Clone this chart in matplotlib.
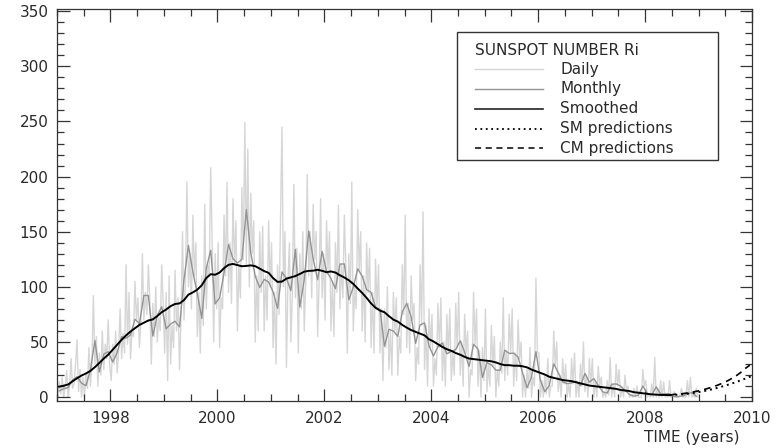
import numpy as np
import matplotlib
matplotlib.use("Agg")
import matplotlib.pyplot as plt
from matplotlib.patches import Rectangle
from matplotlib.ticker import MultipleLocator

# --- data (monthly steps from Jan 1997) ---
monthly = [
    5.7, 7.6, 8.7, 15.5, 18.5, 12.7, 10.4, 24.4, 51.3, 22.8, 39.0, 41.2,
    31.9, 40.3, 54.8, 53.4, 56.3, 70.7, 66.6, 92.2, 92.2, 55.5, 74.0, 81.9,
    62.0, 66.3, 68.8, 63.7, 106.4, 137.7, 113.5, 93.7, 71.5, 116.7, 133.2, 84.6,
    90.1, 112.9, 138.5, 125.5, 121.6, 124.9, 170.1, 130.5, 109.7, 99.4, 106.8, 104.4,
    95.6, 80.6, 113.5, 107.7, 96.6, 134.0, 81.8, 106.4, 150.7, 125.5, 106.5, 132.2,
    114.1, 107.4, 98.4, 120.7, 120.8, 88.3, 99.6, 116.4, 109.6, 97.5, 95.0, 81.6,
    79.5, 46.2, 61.5, 60.0, 55.2, 77.4, 85.0, 72.7, 48.8, 65.5, 67.3, 46.5,
    37.3, 45.8, 49.1, 39.3, 41.5, 43.2, 51.1, 40.9, 27.7, 48.0, 43.5, 17.9,
    31.3, 29.2, 24.5, 24.4, 42.6, 39.6, 39.9, 36.4, 22.1, 8.5, 18.0, 41.2,
    15.3, 4.9, 10.6, 30.2, 22.3, 13.9, 12.2, 12.9, 14.4, 10.4, 21.5, 13.6,
    16.9, 10.6, 4.8, 3.7, 11.7, 12.0, 10.0, 6.2, 2.4, 0.9, 1.7, 10.1,
    3.3, 2.1, 9.3, 2.9, 2.9, 3.1, 0.5, 0.5, 1.1, 2.9, 4.1, 0.8,
]

smoothed = [
    9.5, 10.4, 11.5, 14.4, 17.1, 19.6, 21.5, 23.8, 27.2, 31.0, 35.0, 38.5,
    43.0, 47.5, 52.0, 56.0, 59.5, 62.5, 65.5, 67.5, 69.5, 70.5, 73.5, 77.0,
    79.5, 82.5, 84.5, 85.0, 88.0, 93.0, 95.0, 97.5, 101.5, 108.0, 111.5, 111.0,
    113.0, 117.0, 120.0, 120.8, 119.8, 118.7, 119.0, 119.5, 118.8, 116.5, 114.3, 112.7,
    108.0, 104.5, 104.8, 107.5, 108.6, 109.8, 111.7, 113.8, 114.5, 114.7, 115.5, 114.6,
    113.3, 114.0, 113.0, 110.5, 108.5, 106.0, 102.7, 98.5, 94.5, 90.0, 85.0, 81.0,
    78.5, 77.0, 73.5, 70.3, 68.5, 65.5, 63.0, 60.8, 59.2, 57.5, 56.0, 52.5,
    50.5, 48.0, 45.5, 43.5, 42.0, 40.0, 38.5, 36.5, 35.0, 34.5, 34.0, 33.5,
    33.0, 32.5, 31.5, 30.0, 29.0, 29.0, 28.5, 28.5, 28.0, 27.0, 25.0, 23.5,
    22.0, 20.5, 18.5, 17.5, 16.5, 15.5, 15.0, 14.5, 13.5, 12.5, 11.5, 10.5,
    10.0, 9.5, 9.0, 8.5, 8.0, 7.5, 6.5, 6.0, 5.5, 4.5, 4.0, 3.5,
    3.0, 2.5, 2.2, 2.0, 2.0, 1.8,
]

# predictions from Jun 2008 on
sm_pred = [1.8, 2.0, 2.3, 2.7, 3.1, 3.6, 4.2, 4.9, 5.7, 6.6, 7.6, 8.7,
           9.9, 11.1, 12.4, 13.8, 15.3, 16.8, 18.4, 20.0]
cm_pred = [1.8, 2.5, 2.8, 3.2, 3.8, 4.5, 5.3, 6.2, 7.2, 8.4, 9.7, 11.2,
           12.9, 14.8, 17.0, 19.5, 22.5, 26.0, 29.0]

# daily values, three samples per month
daily = [
    0, 14, 3, 18, 0, 9, 24, 0, 11, 35, 8, 12, 30, 52, 5, 25, 0, 18,
    0, 22, 8, 45, 10, 30, 92, 30, 55, 10, 40, 20, 60, 25, 48, 35, 70, 28,
    15, 48, 30, 60, 22, 42, 80, 35, 58, 40, 120, 48, 95, 35, 60, 55, 105, 70,
    90, 45, 68, 130, 70, 95, 75, 120, 88, 30, 85, 55, 100, 50, 72, 60, 120, 85,
    40, 95, 15, 110, 30, 65, 45, 115, 60, 90, 25, 70, 150, 70, 105, 195, 100, 130,
    80, 165, 110, 140, 55, 95, 40, 110, 65, 175, 80, 120, 110, 208, 140, 50, 130, 80,
    140, 45, 90, 80, 165, 110, 195, 95, 140, 85, 180, 120, 160, 60, 120, 90, 190, 125,
    249, 120, 225, 100, 185, 130, 160, 50, 110, 60, 150, 95, 155, 60, 110, 70, 160, 100,
    140, 45, 95, 30, 120, 75, 160, 245, 100, 150, 27, 105, 140, 50, 95, 193, 90, 135,
    40, 130, 80, 150, 60, 105, 202, 110, 150, 90, 175, 125, 150, 55, 105, 180, 90, 130,
    70, 160, 115, 150, 60, 105, 55, 140, 95, 174, 80, 120, 90, 165, 120, 40, 130, 85,
    195, 60, 100, 80, 170, 115, 150, 60, 110, 50, 140, 95, 135, 45, 95, 40, 125, 80,
    120, 40, 80, 15, 80, 45, 100, 25, 60, 20, 95, 60, 90, 20, 55, 40, 120, 75,
    165, 45, 85, 40, 110, 70, 85, 15, 45, 30, 120, 65, 168, 25, 65, 10, 80, 45,
    75, 10, 35, 20, 85, 45, 90, 15, 50, 10, 75, 40, 80, 15, 40, 20, 85, 45,
    95, 20, 50, 10, 75, 40, 60, 0, 25, 20, 95, 48, 80, 10, 42, 0, 45, 15,
    80, 5, 30, 10, 65, 28, 55, 0, 25, 10, 50, 22, 90, 15, 42, 20, 75, 40,
    80, 10, 40, 15, 70, 35, 50, 0, 20, 0, 25, 8, 45, 0, 18, 10, 108, 40,
    40, 0, 15, 0, 20, 3, 35, 0, 10, 10, 60, 28, 50, 5, 20, 0, 35, 12,
    30, 0, 12, 0, 35, 12, 40, 0, 14, 0, 30, 10, 50, 5, 20, 0, 35, 12,
    35, 0, 15, 0, 28, 10, 18, 0, 4, 0, 15, 2, 36, 0, 12, 0, 30, 10,
    25, 0, 9, 0, 20, 5, 10, 0, 2, 0, 8, 0, 10, 0, 0, 0, 25, 10,
    15, 0, 2, 0, 12, 0, 36, 0, 8, 0, 15, 0, 14, 0, 2, 0, 15, 0,
    0, 5, 0, 0, 0, 2, 8, 0, 0, 0, 15, 0, 18, 0, 2, 0, 8, 0,
]

# time axes (decimal years)
t_month = 1997 + (np.arange(len(monthly)) + 0.5) / 12
t_smooth = 1997 + (np.arange(len(smoothed)) + 0.5) / 12
t_daily = 1997 + (np.arange(len(daily)) + 0.5) / 36
t_sm = 1997 + (np.arange(len(sm_pred)) + len(smoothed) - 0.5) / 12
t_cm = 1997 + (np.arange(len(cm_pred)) + len(smoothed) - 0.5) / 12

TXT = "#2a2a2a"
plt.rcParams["font.family"] = ["DejaVu Sans"]

fig = plt.figure(figsize=(7.84, 4.48), dpi=100)
ax = fig.add_axes([57 / 784, 47 / 448, 695 / 784, 392 / 448])

ax.plot(t_daily, daily, color="#d6d6d6", lw=1.0, zorder=1)
ax.plot(t_month, monthly, color="#939393", lw=1.0, zorder=2)
ax.plot(t_smooth, smoothed, color="black", lw=1.4, zorder=3)
ax.plot(t_sm, sm_pred, color="black", lw=1.4, ls=(0, (1, 2)), zorder=4)
ax.plot(t_cm, cm_pred, color="black", lw=1.2, ls=(0, (4, 3)), zorder=4)

ax.set_xlim(1997, 2010)
ax.set_ylim(-3.5, 352)
ax.xaxis.set_major_locator(MultipleLocator(2))
ax.xaxis.set_minor_locator(MultipleLocator(0.5))
ax.yaxis.set_major_locator(MultipleLocator(50))
ax.yaxis.set_minor_locator(MultipleLocator(10))
ax.set_xticks([1998, 2000, 2002, 2004, 2006, 2008, 2010])
ax.tick_params(which="both", direction="in", top=True, right=True,
               color="#333333", width=0.9, labelcolor=TXT, labelsize=11)
ax.tick_params(which="major", length=9)
ax.tick_params(which="minor", length=5)
ax.tick_params(axis="x", which="major", pad=7)
ax.tick_params(axis="y", which="major", pad=6)
for sp in ax.spines.values():
    sp.set_color("#333333")
    sp.set_linewidth(0.9)

fig.text(740 / 784, 1 - 437 / 448, "TIME (years)", ha="right", va="center",
         fontsize=11, color=TXT)

# legend box drawn by hand
box = Rectangle((0.5755, 0.615), 0.3755, 0.326, transform=ax.transAxes,
                fill=True, facecolor="white", edgecolor="#333333", lw=1.0, zorder=5)
ax.add_patch(box)
ax.text(0.601, 0.895, "SUNSPOT NUMBER Ri", transform=ax.transAxes, fontsize=11,
        color=TXT, va="center", ha="left", zorder=6)
leg_items = [
    ("Daily", dict(color="#d6d6d6", lw=1.0, ls="-")),
    ("Monthly", dict(color="#939393", lw=1.0, ls="-")),
    ("Smoothed", dict(color="#222222", lw=1.2, ls="-")),
    ("SM predictions", dict(color="black", lw=1.3, ls=(0, (1, 2)))),
    ("CM predictions", dict(color="black", lw=1.1, ls=(0, (4, 3)))),
]
row_y = [0.846, 0.796, 0.745, 0.694, 0.645]
for (label, style), yy in zip(leg_items, row_y):
    ax.plot([0.601, 0.699], [yy, yy], transform=ax.transAxes, zorder=6, **style)
    ax.text(0.724, yy, label, transform=ax.transAxes, fontsize=11, color=TXT,
            va="center", ha="left", zorder=6)

fig.savefig("out.png", dpi=100)
